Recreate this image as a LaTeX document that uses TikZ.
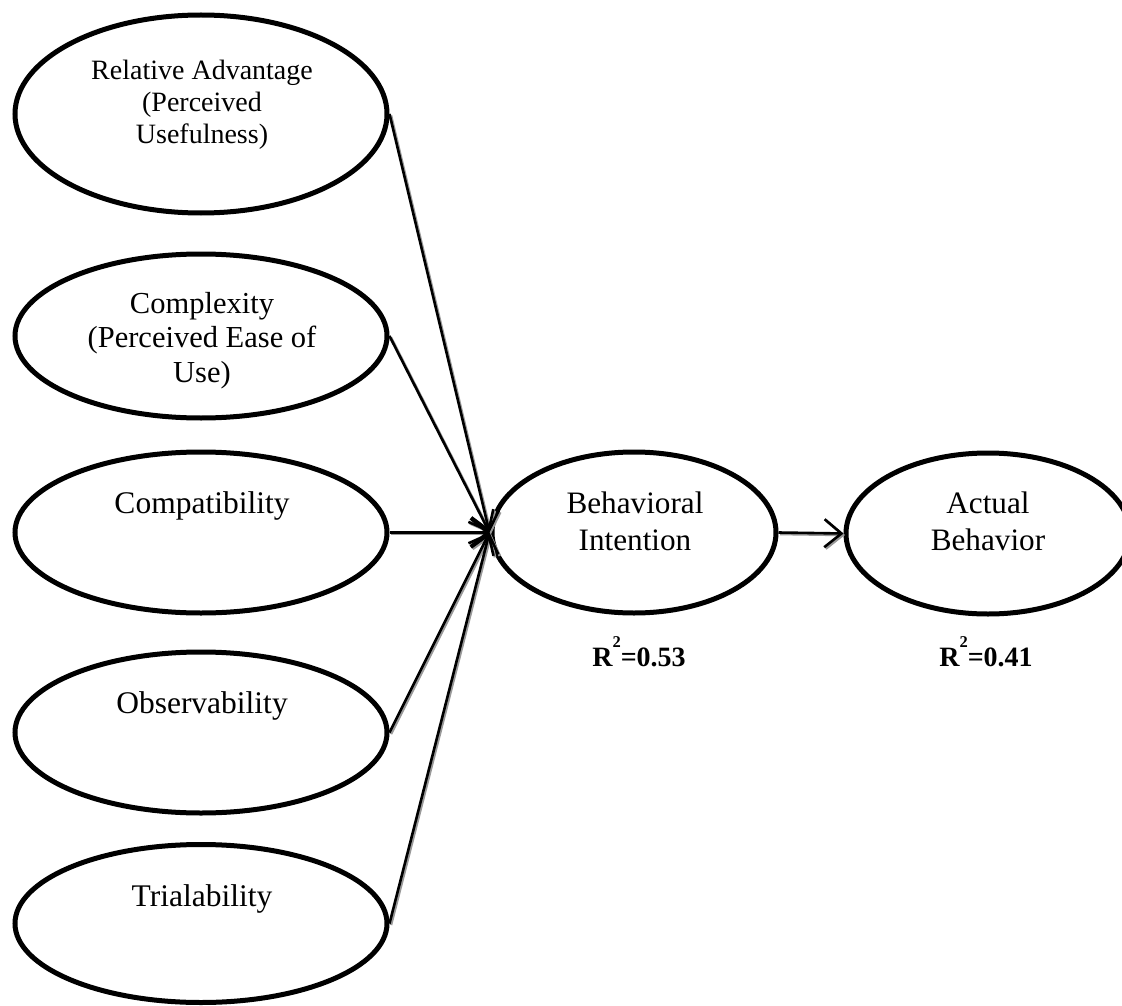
\documentclass[tikz,border=0pt]{standalone}
\usepackage{fontspec}
\setmainfont{Liberation Serif}
\usetikzlibrary{shapes.geometric,arrows.meta}

% stacked, centred lines whose outer baseline is that of the first line
\newcommand{\linestack}[1]{\begin{tabular}[t]{@{}c@{}}#1\end{tabular}}
% bold R-squared value with a raised 2
\newcommand{\rsquared}[1]{\textbf{R\raisebox{18.5pt}{\fontsize{16.5}{16.5}\selectfont 2}=#1}}

\begin{document}
\begin{tikzpicture}[x=1pt,y=-1pt,
  construct/.style={draw=black, line width=5pt, ellipse, inner sep=0pt},
  factor/.style={construct, minimum width=372pt},
  outcome/.style={construct, minimum width=284pt, minimum height=161pt},
  caption/.style={anchor=base, inner sep=0pt, align=center},
  link/.style={line width=2.6pt, -{Straight Barb[length=17pt,width=28pt]}},
  linkshadow/.style={link, draw=black!40, transform canvas={shift={(1.5pt,-1.5pt)}}},
  rlabel/.style={anchor=base, inner sep=0pt, font=\fontsize{28}{32}\selectfont}
]
\useasboundingbox (0,0) rectangle (1122,1006);

% innovation attributes
\node[factor, minimum height=198pt] (e1) at (201,114) {};
\node[factor, minimum height=164pt] (e2) at (201,336) {};
\node[factor, minimum height=161pt] (e3) at (201,532.5) {};
\node[factor, minimum height=161pt] (e4) at (201,732.5) {};
\node[factor, minimum height=158pt] (e5) at (201,923.5) {};

% outcome constructs
\node[outcome] (bi) at (634,532.5) {};
\node[outcome] (ab) at (988,533.5) {};

% construct names
\node[caption, font=\fontsize{28}{32}\selectfont] (t1) at (202,80)
  {\linestack{Relative Advantage\\(Perceived\\Usefulness)}};
\node[caption, font=\fontsize{30.5}{34.5}\selectfont] (t2) at (202,313)
  {\linestack{Complexity\\(Perceived Ease of\\Use)}};
\node[caption, font=\fontsize{31.5}{37}\selectfont] (t3) at (202,513) {Compatibility};
\node[caption, font=\fontsize{31.5}{37}\selectfont] (t4) at (202,713) {Observability};
\node[caption, font=\fontsize{31.5}{37}\selectfont] (t5) at (202,906) {Trialability};
\node[caption, font=\fontsize{31.2}{37}\selectfont] (tbi) at (635,513)
  {\linestack{Behavioral\\Intention}};
\node[caption, font=\fontsize{31.2}{37}\selectfont] (tab) at (988,513)
  {\linestack{Actual\\Behavior}};

% explained variance
\node[rlabel] (rbi) at (639,666) {\rsquared{0.53}};
\node[rlabel] (rab) at (986,666) {\rsquared{0.41}};

% paths: soft shadows first, then the black arrows
\foreach \src in {e1,e2,e3,e4,e5}
  \draw[linkshadow] (\src.east) -- (bi.west);
\draw[linkshadow] (bi.east) -- (ab.west);
\foreach \src in {e1,e2,e3,e4,e5}
  \draw[link] (\src.east) -- (bi.west);
\draw[link] (bi.east) -- (ab.west);
\end{tikzpicture}
\end{document}
